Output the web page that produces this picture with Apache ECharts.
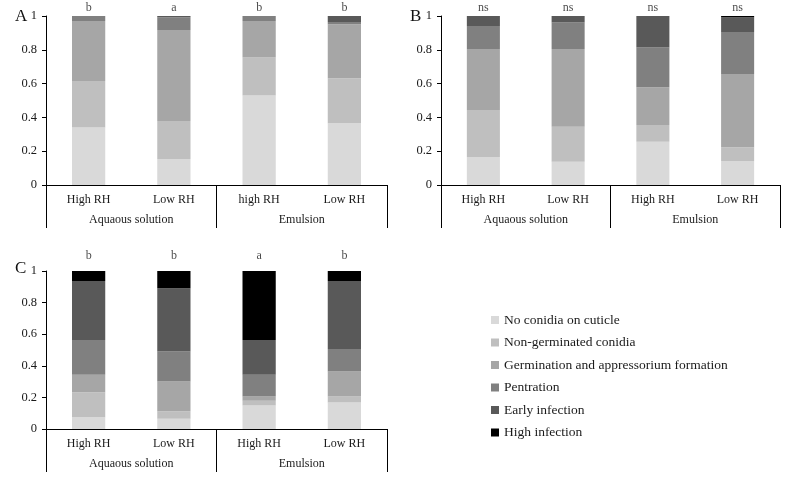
<!DOCTYPE html>
<html>
<head>
<meta charset="utf-8">
<script src="https://cdn.jsdelivr.net/npm/echarts@6/dist/echarts.min.js"></script>
<style>html,body{margin:0;padding:0;background:#fff}#c{width:791px;height:483px}</style>
</head>
<body>
<div id="c"></div>
<script>
// ---- data ----
var seriesNames = ['No conidia on cuticle', 'Non-germinated conidia', 'Germination and appressorium formation', 'Pentration', 'Early infection', 'High infection'];
var groups = ['Aquaous solution', 'Emulsion'];
var catsA = ['High RH', 'Low RH', 'high RH', 'Low RH'];
var catsB = ['High RH', 'Low RH', 'High RH', 'Low RH'];
var catsC = ['High RH', 'Low RH', 'High RH', 'Low RH'];
var yTicks = [0, 0.2, 0.4, 0.6, 0.8, 1];

// Panel A
var aNoConidia = [0.34, 0.154, 0.53, 0.365];
var aNonGerm   = [0.275, 0.225, 0.225, 0.266];
var aGerm      = [0.355, 0.538, 0.215, 0.32];
var aPent      = [0.03, 0.075, 0.03, 0.014];
var aEarly     = [0, 0.008, 0, 0.035];
var aHigh      = [0, 0, 0, 0];
var aLetters   = ['b', 'a', 'b', 'b'];

// Panel B
var bNoConidia = [0.164, 0.138, 0.256, 0.14];
var bNonGerm   = [0.28, 0.207, 0.099, 0.083];
var bGerm      = [0.361, 0.46, 0.223, 0.434];
var bPent      = [0.136, 0.156, 0.235, 0.248];
var bEarly     = [0.059, 0.039, 0.187, 0.087];
var bHigh      = [0, 0, 0, 0.008];
var bLetters   = ['ns', 'ns', 'ns', 'ns'];

// Panel C
var cNoConidia = [0.074, 0.065, 0.149, 0.168];
var cNonGerm   = [0.158, 0.047, 0.03, 0.038];
var cGerm      = [0.111, 0.189, 0.027, 0.158];
var cPent      = [0.221, 0.19, 0.137, 0.143];
var cEarly     = [0.373, 0.4, 0.221, 0.43];
var cHigh      = [0.063, 0.109, 0.436, 0.063];
var cLetters   = ['b', 'b', 'a', 'b'];

// ---- styling ----
var colors = ['#d9d9d9', '#bfbfbf', '#a6a6a6', '#808080', '#595959', '#000000'];
var FONT = '"Liberation Serif", "Times New Roman", serif';

var panels = [
  {cats: catsA, vals: [aNoConidia, aNonGerm, aGerm, aPent, aEarly, aHigh], letters: aLetters, grid: {left: 46, top: 16, width: 341, height: 169}, letterDist: 2, label: 'A', lx: 10, ly: 3},
  {cats: catsB, vals: [bNoConidia, bNonGerm, bGerm, bPent, bEarly, bHigh], letters: bLetters, grid: {left: 441, top: 16, width: 339, height: 169}, letterDist: 2, label: 'B', lx: 405, ly: 3},
  {cats: catsC, vals: [cNoConidia, cNonGerm, cGerm, cPent, cEarly, cHigh], letters: cLetters, grid: {left: 46, top: 271, width: 341, height: 158}, letterDist: 9, label: 'C', lx: 10, ly: 255}
];

var grid = [], xAxis = [], yAxis = [], series = [], titles = [];
panels.forEach(function (p, i) {
  grid.push(p.grid);
  xAxis.push({
    type: 'category', gridIndex: i, data: p.cats,
    axisLine: {show: true, lineStyle: {color: '#000', width: 1}},
    axisTick: {show: false},
    axisLabel: {color: '#1a1a1a', fontFamily: FONT, fontSize: 12, margin: 9}
  });
  xAxis.push({
    type: 'category', gridIndex: i, data: groups, position: 'bottom',
    axisLine: {show: false},
    axisTick: {show: true, length: 43, inside: false, lineStyle: {color: '#000', width: 1}},
    axisLabel: {color: '#1a1a1a', fontFamily: FONT, fontSize: 12, margin: 29}
  });
  yAxis.push({
    type: 'value', gridIndex: i, min: 0, max: 1, interval: 0.2,
    axisLine: {show: true, lineStyle: {color: '#000', width: 1}},
    axisTick: {show: true, length: 4, lineStyle: {color: '#000'}},
    splitLine: {show: false},
    axisLabel: {color: '#1a1a1a', fontFamily: FONT, fontSize: 12.5, margin: 9}
  });
  p.vals.forEach(function (v, k) {
    series.push({
      type: 'bar', name: seriesNames[k], stack: 'p' + i,
      xAxisIndex: i * 2, yAxisIndex: i,
      barWidth: '39%', data: v,
      itemStyle: {color: colors[k]},
      emphasis: {disabled: true}
    });
  });
  series.push({
    type: 'scatter', name: 'letters' + i, xAxisIndex: i * 2, yAxisIndex: i,
    symbolSize: 0, silent: true,
    data: p.letters.map(function (l, j) { return {value: [j, 1], letter: l}; }),
    label: {show: true, position: 'top', distance: p.letterDist, color: '#1a1a1a', fontFamily: FONT, fontSize: 12,
      formatter: function (d) { return d.data.letter; }}
  });
  titles.push({text: p.label, left: p.lx, top: p.ly, textStyle: {fontFamily: FONT, fontSize: 17, fontWeight: 'normal', color: '#111'}});
});

var chart = echarts.init(document.getElementById('c'), null, {renderer: 'canvas'});
chart.setOption({
  animation: false,
  backgroundColor: '#fff',
  title: titles,
  grid: grid, xAxis: xAxis, yAxis: yAxis, series: series,
  legend: {
    data: seriesNames, orient: 'vertical', left: 486, top: 308,
    itemWidth: 8, itemHeight: 8, itemGap: 8.5, icon: 'rect',
    selectedMode: false,
    textStyle: {fontFamily: FONT, fontSize: 13.5, color: '#1a1a1a', lineHeight: 14}
  }
});
</script>
</body>
</html>
